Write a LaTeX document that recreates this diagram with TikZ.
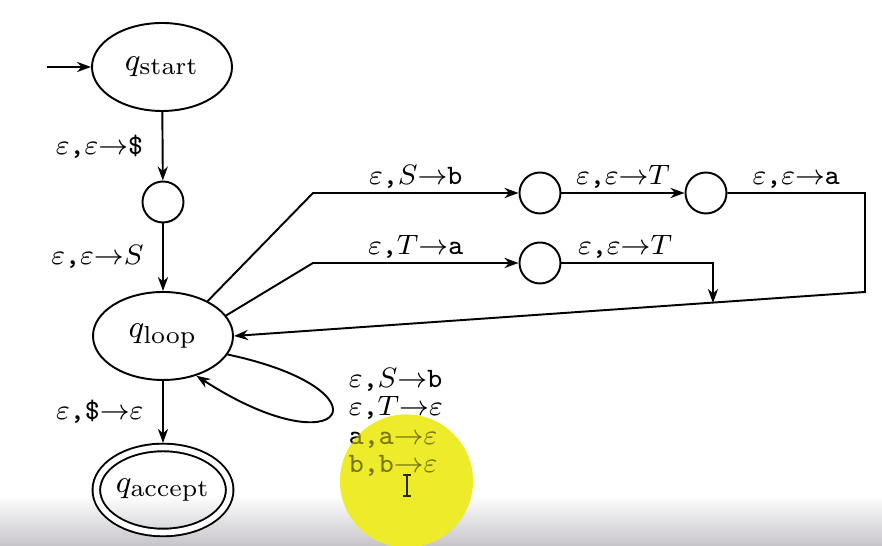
\documentclass[tikz,border=0pt]{standalone}
\usetikzlibrary{arrows.meta}
\usetikzlibrary{shapes.geometric}

\definecolor{hilite}{RGB}{238,236,42}
\definecolor{barcol}{RGB}{198,196,201}
\definecolor{beamcol}{RGB}{45,40,15}

% Macro: one transition label  x,y->z
\newcommand{\tr}[3]{$#1$\texttt{,}$#2{\to}#3$}

\begin{document}
\begin{tikzpicture}[>={Stealth[length=4pt,width=2.9pt]}, x=1cm, y=1cm, line width=0.55pt,
    bigstate/.style={draw, ellipse, minimum width=1.4cm, minimum height=0.88cm, inner sep=0pt,
        font=\fontsize{9.5}{10}\selectfont},
    hub/.style={draw, circle, minimum size=0.41cm, inner sep=0pt},
    lab/.style={font=\fontsize{8}{8}\selectfont, inner sep=1pt}]

\useasboundingbox (0,0) rectangle (8.82,5.46);

% Video bar shading at the bottom
\shade[top color=white, bottom color=barcol] (0,0) rectangle (8.82,0.51);

% States
\node[bigstate] (qstart) at (1.62,4.79) {$q_{\mathrm{start}}$};
\node[hub] (s1) at (1.63,3.44) {};
\node[bigstate] (qloop) at (1.63,2.10) {$q_{\mathrm{loop}}$};
\node[bigstate, minimum width=1.31cm, minimum height=0.85cm, double, double distance=1.6pt,
    outer sep=1.3pt] (qaccept) at (1.63,0.56) {$q_{\mathrm{accept}}$};

\node[hub] (A) at (5.40,3.53) {};
\node[hub] (B) at (7.06,3.53) {};
\node[hub] (C) at (5.40,2.83) {};

% Corners of the bent connectors
\coordinate (init) at (0.47,4.79);
\coordinate (u1) at (3.13,3.53);
\coordinate (l1) at (3.13,2.83);
\coordinate (r1) at (8.65,3.53);
\coordinate (r2) at (8.65,2.54);
\coordinate (d1) at (7.13,2.83);
\coordinate (d2) at (7.13,2.43);

% Main column
\draw[->] (init) -- (qstart);
\draw[->] (qstart) -- node[lab, left=0.15cm] {\tr{\varepsilon}{\varepsilon}{\texttt{\$}}} (s1);
\draw[->] (s1) -- node[lab, left=0.15cm] {\tr{\varepsilon}{\varepsilon}{S}} (qloop);
\draw[->] (qloop) -- node[lab, left=0.15cm] {\tr{\varepsilon}{\texttt{\$}}{\varepsilon}} (qaccept);

% Upper branch
\draw[->] (qloop.38) -- (u1) -- node[lab, above] {\tr{\varepsilon}{S}{\texttt{b}}} (A);
\draw[->] (A) -- node[lab, above] {\tr{\varepsilon}{\varepsilon}{T}} (B);
\draw[->] (B) -- node[lab, above] {\tr{\varepsilon}{\varepsilon}{\texttt{a}}} (r1) -- (r2) -- (qloop.east);

% Lower branch
\draw[->] (qloop.18) -- (l1) -- node[lab, above] {\tr{\varepsilon}{T}{\texttt{a}}} (C);
\draw[->] (C) -- node[lab, above, pos=0.42] {\tr{\varepsilon}{\varepsilon}{T}} (d1) -- (d2);

% Cursor highlight (under the text)
\fill[hilite] (4.065,0.65) circle (0.665);

% Self loop and its labels
\draw[->] (qloop.-16) .. controls (3.95,1.56) and (3.45,0.74) .. (qloop.-50);
\foreach \t [count=\i] in {{\tr{\varepsilon}{S}{\texttt{b}}}, {\tr{\varepsilon}{T}{\varepsilon}},
        {\tr{\texttt{a}}{\texttt{a}}{\varepsilon}}, {\tr{\texttt{b}}{\texttt{b}}{\varepsilon}}} {
    \node[lab, anchor=base west, inner sep=0pt] (lp\i) at (3.48,1.875-0.286*\i) {\t};
}

% Cursor highlight (over the text) and I-beam
\fill[hilite, opacity=0.5] (4.065,0.65) circle (0.665);
\draw[beamcol, line width=0.6pt] (4.07,0.71) -- (4.07,0.50)
    (4.03,0.71) -- (4.11,0.71) (4.03,0.50) -- (4.11,0.50);

\end{tikzpicture}
\end{document}
